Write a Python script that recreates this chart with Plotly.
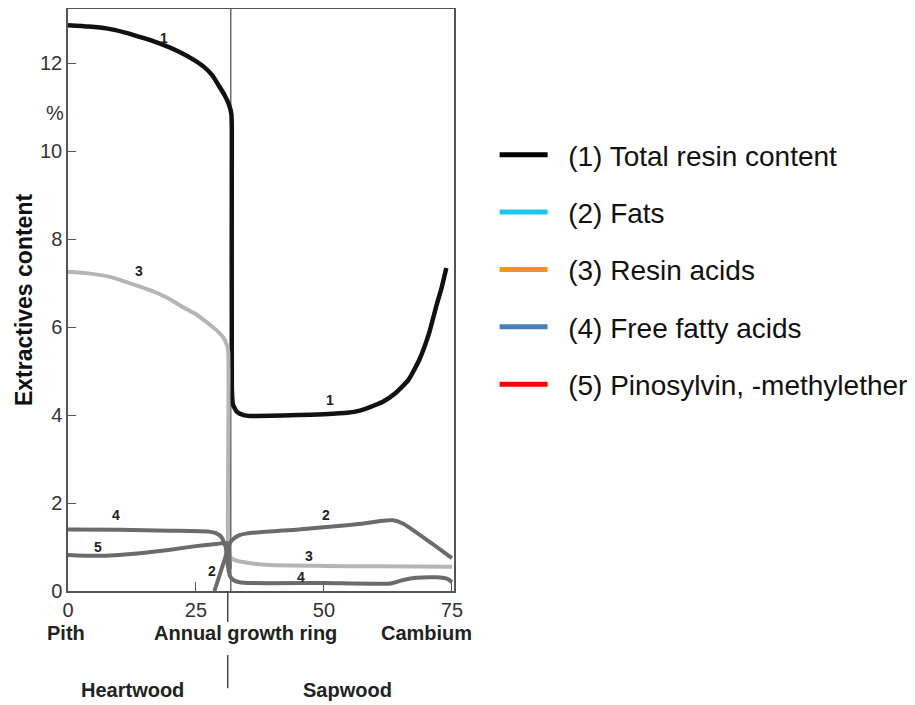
import plotly.graph_objects as go

# ---- data ----
total_x = [0, 4, 7.5, 11, 15, 18.5, 21.7, 24.5, 26.5, 28.2, 29.5, 30.6, 31.4, 31.9, 32.0, 32.0, 32.2, 33.0, 34.3, 35.5, 45, 50, 54.5, 57, 59, 61.5, 64, 66.5, 68.6, 70.5, 72, 73, 73.9]
total_y = [12.86, 12.83, 12.79, 12.7, 12.56, 12.42, 12.26, 12.08, 11.92, 11.72, 11.48, 11.27, 11.07, 10.85, 10.5, 4.6, 4.25, 4.07, 4.0, 3.98, 4.0, 4.02, 4.05, 4.1, 4.18, 4.3, 4.5, 4.8, 5.25, 5.85, 6.5, 6.9, 7.34]

fats_x = [28.6, 30.0, 30.7, 31.3, 31.8, 32.5, 33.5, 35, 45, 55, 62, 63.5, 65.5, 75]
fats_y = [0.0, 0.5, 0.75, 1.0, 1.12, 1.2, 1.27, 1.31, 1.40, 1.50, 1.60, 1.61, 1.53, 0.75]

resin_x = [0, 4, 8.2, 12, 16, 19.5, 22.5, 25, 27.1, 29, 30.3, 31.0, 31.3, 31.3, 31.6, 32.6, 35, 39.5, 50, 60, 75]
resin_y = [7.26, 7.22, 7.14, 7.0, 6.84, 6.66, 6.45, 6.29, 6.11, 5.93, 5.77, 5.6, 5.45, 0.9, 0.78, 0.7, 0.64, 0.59, 0.57, 0.56, 0.55]

ffa_x = [0, 10, 20, 27.5, 29, 30, 30.8, 31.2, 31.6, 32.3, 33.5, 36, 50, 63, 65.5, 68, 72, 74.2, 75]
ffa_y = [1.40, 1.39, 1.37, 1.35, 1.31, 1.22, 1.0, 0.6, 0.35, 0.25, 0.2, 0.18, 0.18, 0.17, 0.25, 0.3, 0.31, 0.27, 0.2]

pino_x = [0, 5, 10, 15, 20, 25, 29, 31, 31.4, 31.6]
pino_y = [0.82, 0.80, 0.82, 0.87, 0.94, 1.02, 1.07, 1.09, 1.0, 0.5]

legend_names = ["(1) Total resin content", "(2) Fats", "(3) Resin acids",
                "(4) Free fatty acids", "(5) Pinosylvin, -methylether"]
legend_colors = ["#000000", "#1cc6f2", "#f7941d", "#4a7ebb", "#ff0000"]

curve_labels = ["1", "1", "3", "3", "2", "2", "4", "4", "5"]
curve_label_x = [18.8, 51.2, 13.9, 47.1, 50.4, 28.1, 9.4, 45.5, 5.9]
curve_label_y = [12.57, 4.34, 7.27, 0.8, 1.73, 0.45, 1.73, 0.32, 1.0]

x_ticks = [0, 25, 50, 75]
y_ticks = [0, 2, 4, 6, 8, 10, 12]
boundary_x = 31.8

FONT = "Liberation Sans, Arial, sans-serif"
DARK = "#6b6b6b"
LIGHT = "#b5b5b5"

fig = go.Figure()

series = [
    (total_x, total_y, "#111111", 4.5),
    (resin_x, resin_y, LIGHT, 4),
    (pino_x, pino_y, DARK, 4),
    (ffa_x, ffa_y, DARK, 4),
    (fats_x, fats_y, DARK, 4),
]
for xs, ys, col, w in series:
    fig.add_trace(go.Scatter(x=xs, y=ys, mode="lines", showlegend=False,
                             line=dict(color=col, width=w, shape="spline", smoothing=0.5),
                             hoverinfo="skip"))

# legend entries (coloured swatches as in the reference)
NBSP = "\u00a0"
for i, (name, col) in enumerate(zip(legend_names, legend_colors)):
    fig.add_trace(go.Scatter(x=[None], y=[None], mode="lines", name=NBSP * 2 + name,
                             legendgroup=f"g{i}", line=dict(color=col, width=5)))

# boundary line
fig.add_shape(type="line", x0=boundary_x, x1=boundary_x, y0=0, y1=1, xref="x", yref="paper",
              line=dict(color="#444444", width=1.2), layer="below")
fig.add_shape(type="line", x0=boundary_x - 0.6, x1=boundary_x - 0.6, y0=0, y1=-0.053, xref="x", yref="paper",
              line=dict(color="#444444", width=1.5))
fig.add_shape(type="line", x0=boundary_x - 0.6, x1=boundary_x - 0.6, y0=-0.110, y1=-0.167, xref="x", yref="paper",
              line=dict(color="#444444", width=1.5))

for t, x, y in zip(curve_labels, curve_label_x, curve_label_y):
    fig.add_annotation(x=x, y=y, text=f"<b>{t}</b>", showarrow=False,
                       font=dict(family=FONT, size=14, color="#222222"))

fig.add_annotation(x=-0.034, y=10.86, xref="paper", yref="y", text="%", showarrow=False,
                   xanchor="center", font=dict(family=FONT, size=20, color="#333333"))

bottom = [("Pith", -0.005, -0.072), ("Annual growth ring", 0.461, -0.072), ("Cambium", 0.930, -0.072),
          ("Heartwood", 0.168, -0.170), ("Sapwood", 0.725, -0.170)]
for t, x, y in bottom:
    fig.add_annotation(x=x, y=y, xref="paper", yref="paper", text=f"<b>{t}</b>", showarrow=False,
                       xanchor="center", yanchor="middle",
                       font=dict(family=FONT, size=20, color="#222222"))

fig.update_layout(
    width=907, height=697,
    margin=dict(l=60, r=461, t=1, b=114, autoexpand=False),
    paper_bgcolor="white", plot_bgcolor="white",
    font=dict(family=FONT, color="#333333"),
    xaxis=dict(range=[0, 75.4], tickvals=x_ticks, ticks="inside", ticklen=9, tickcolor="#555555",
               showline=True, linecolor="#555555", linewidth=1.5, mirror=True, showgrid=False,
               zeroline=False, tickfont=dict(size=20, color="#333333")),
    yaxis=dict(range=[0, 13.23], tickvals=y_ticks, ticks="inside", ticklen=8, tickcolor="#555555",
               showline=True, linecolor="#555555", linewidth=1.5, mirror=True, showgrid=False,
               zeroline=False, tickfont=dict(size=20, color="#333333"),
               title=dict(text="<b>Extractives content</b>", standoff=1,
                          font=dict(family=FONT, size=23, color="#111111"))),
    legend=dict(xref="container", yref="container", x=0.5365, y=0.825, xanchor="left", yanchor="top",
                font=dict(family=FONT, size=28, color="#111111"), itemwidth=48,
                tracegroupgap=18, bgcolor="rgba(0,0,0,0)"),
    showlegend=True,
)

fig.write_html("out.html")
